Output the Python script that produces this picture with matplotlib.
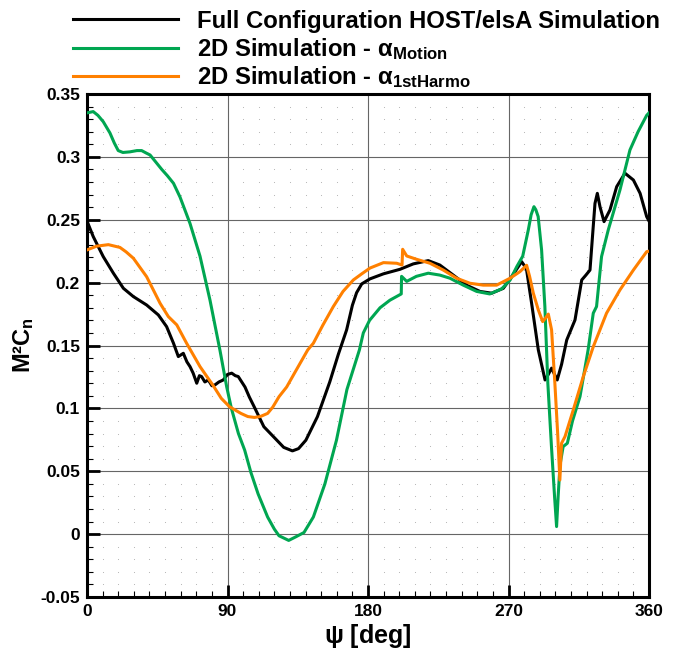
import numpy as np
import matplotlib
matplotlib.use('Agg')
import matplotlib.pyplot as plt
from matplotlib.lines import Line2D
from matplotlib.ticker import MultipleLocator, FuncFormatter

plt.rcParams['font.family'] = ['Liberation Sans', 'DejaVu Sans']
plt.rcParams['font.weight'] = 'bold'
plt.rcParams['mathtext.fontset'] = 'custom'
plt.rcParams['mathtext.rm'] = 'Liberation Sans'
plt.rcParams['mathtext.bf'] = 'Liberation Sans:bold'
plt.rcParams['mathtext.it'] = 'Liberation Sans:italic'

# Full configuration HOST/elsA
psi_host = [0, 4, 10.4, 16.9, 23.3, 29.7, 38.2, 45.7, 51, 55.4, 58.5, 61.7, 64, 66, 68,
            70.3, 72, 73.4, 75.5, 77.7, 80, 82, 84.5, 87.3, 90, 92.7, 95, 96.9, 101.2,
            104, 107.2, 113.3, 120.6, 126, 131.6, 135.5, 140.2, 147.6, 155.5, 161,
            166.3, 170, 172.7, 176, 181.3, 189.9, 200.5, 209, 218.6, 226, 234.6, 243.1,
            251.7, 259.2, 266.7, 272, 276.3, 278.4, 280.6, 281.6, 284.8, 289.1, 293.4,
            295.5, 297.6, 299.5, 301.2, 304, 307.3, 312.6, 316.9, 319.6, 322.2, 324,
            325.4, 326.9, 328.6, 331.2, 335, 339.3, 344.6, 350, 354.3, 358.5, 360]
cn_host = [0.249, 0.2366, 0.2207, 0.2075, 0.1955, 0.1889, 0.1822, 0.1743, 0.165, 0.1518,
           0.1412, 0.1438, 0.137, 0.1332, 0.128, 0.120, 0.126, 0.1253, 0.121, 0.1226,
           0.118, 0.1187, 0.121, 0.1226, 0.127, 0.128, 0.126, 0.1253, 0.117, 0.109,
           0.101, 0.0854, 0.076, 0.069, 0.0662, 0.068, 0.0747, 0.0934, 0.121, 0.143,
           0.1624, 0.182, 0.192, 0.199, 0.203, 0.207, 0.2106, 0.2149, 0.2175, 0.214,
           0.206, 0.198, 0.193, 0.1916, 0.1955, 0.2047, 0.2127, 0.2167, 0.2127, 0.21,
           0.1836, 0.1465, 0.1226, 0.127, 0.132, 0.127, 0.1226, 0.135, 0.1544, 0.1703,
           0.2021, 0.206, 0.210, 0.24, 0.263, 0.271, 0.2604, 0.2485, 0.2578, 0.2763,
           0.287, 0.2816, 0.271, 0.2525, 0.249]

# 2D simulation - alpha Motion
psi_motion = [0, 4, 7, 10.4, 14.7, 17.5, 20, 23, 27.5, 32, 35, 38, 40.4, 44, 47.9, 51.5,
              55.4, 59.6, 66, 72.4, 78.8, 85.2, 89.5, 92.5, 97, 101, 105, 109.6, 115.7,
              120, 123, 129.2, 134, 139, 145, 152.4, 159.8, 166.5, 174.5, 177, 181,
              187.7, 194, 201.3, 201.5, 204.8, 211, 218.6, 226, 232.5, 241, 249.6, 258,
              265.6, 271, 275.3, 279.1, 282.7, 284.5, 286.3, 287.5, 289, 291.2, 293.3,
              295.2, 297.5, 299.5, 300.8, 301.8, 303, 305, 307.7, 311, 315.8, 321, 324.3,
              326.4, 329.6, 333.9, 341.4, 347.8, 353, 358.5, 360]
cn_motion = [0.335, 0.336, 0.333, 0.328, 0.319, 0.311, 0.305, 0.3035, 0.304, 0.305, 0.305,
             0.303, 0.3015, 0.296, 0.29, 0.285, 0.279, 0.268, 0.247, 0.221, 0.186, 0.146,
             0.117, 0.100, 0.080, 0.0668, 0.049, 0.032, 0.0136, 0.004, -0.0013, -0.005,
             -0.002, 0.0013, 0.0136, 0.040, 0.0747, 0.115, 0.1465, 0.160, 0.170, 0.18,
             0.186, 0.191, 0.205, 0.201, 0.205, 0.2075, 0.206, 0.2035, 0.198, 0.193,
             0.191, 0.195, 0.202, 0.2127, 0.221, 0.242, 0.254, 0.2604, 0.258, 0.2525,
             0.226, 0.181, 0.12, 0.07, 0.03, 0.006, 0.03, 0.055, 0.0696, 0.0723, 0.09,
             0.1094, 0.1465, 0.1757, 0.181, 0.2207, 0.2419, 0.2737, 0.3055, 0.32, 0.333,
             0.335]

# 2D simulation - alpha 1st harmonic
psi_harmo = [0, 6.2, 13.7, 21.1, 25, 29.7, 38.2, 46.8, 52.1, 57.5, 63.8, 72.4, 80.9, 86,
             91.3, 98.6, 103, 107.2, 111, 115.7, 119, 123, 127.9, 132.9, 141.4, 145, 151,
             157.8, 164, 170.6, 176, 181.3, 189.9, 198.4, 201.8, 202.2, 204.8, 211, 219.7,
             228.2, 236.8, 245.3, 253.8, 262.4, 271, 277.4, 281.6, 283.5, 285.9, 289.1,
             291.9, 293.8, 295.5, 297.6, 299.7, 301.5, 302.9, 304, 306.2, 311.5, 317.9,
             324.3, 332.8, 341.4, 350, 358.5, 360]
cn_harmo = [0.226, 0.229, 0.2302, 0.228, 0.2245, 0.2194, 0.2047, 0.1836, 0.173, 0.1664,
            0.1518, 0.1332, 0.118, 0.108, 0.1013, 0.096, 0.0935, 0.0928, 0.0935, 0.096,
            0.101, 0.1093, 0.117, 0.128, 0.1465, 0.1518, 0.166, 0.181, 0.193, 0.2021,
            0.207, 0.2116, 0.2159, 0.2154, 0.214, 0.2265, 0.2212, 0.2186, 0.2154, 0.210,
            0.2035, 0.1995, 0.198, 0.198, 0.2035, 0.2088, 0.2138, 0.205, 0.1916, 0.1783,
            0.169, 0.172, 0.175, 0.1624, 0.120, 0.08, 0.043, 0.0723, 0.0776, 0.0988,
            0.1253, 0.149, 0.1757, 0.1942, 0.21, 0.2246, 0.225]

labels = ['Full Configuration HOST/elsA Simulation',
          r'2D Simulation - $\mathrm{\alpha}_{\mathbf{Motion}}$',
          r'2D Simulation - $\mathrm{\alpha}_{\mathbf{1stHarmo}}$']
colors = ['black', '#00A651', '#FF8000']

W, H = 679, 652
fig = plt.figure(figsize=(W / 100, H / 100), dpi=100)
ax = fig.add_axes([87 / W, 1 - 597 / H, (649 - 87) / W, (597 - 94) / H])

ax.set_xlim(0, 360)
ax.set_ylim(-0.05, 0.35)
ax.xaxis.set_major_locator(MultipleLocator(90))
ax.xaxis.set_minor_locator(MultipleLocator(10))
ax.yaxis.set_major_locator(MultipleLocator(0.05))
ax.yaxis.set_minor_locator(MultipleLocator(0.01))
ax.yaxis.set_major_formatter(FuncFormatter(lambda v, p: '%g' % round(v, 3)))
ax.xaxis.set_major_formatter(FuncFormatter(lambda v, p: '%g' % v))

ax.grid(True, which='major', color='#666666', lw=0.8)
# dotted minor grid: dots at minor intersections
mx = ax.xaxis.get_minorticklocs()
my = ax.yaxis.get_minorticklocs()
gx, gy = np.meshgrid(mx, my)
ax.scatter(gx.ravel(), gy.ravel(), s=0.6, color='#b0b0b0', lw=0, zorder=1)

ax.plot(psi_host, cn_host, color=colors[0], lw=2.2, zorder=3)
ax.plot(psi_motion, cn_motion, color=colors[1], lw=2.2, zorder=4)
ax.plot(psi_harmo, cn_harmo, color=colors[2], lw=2.2, zorder=5)

ax.tick_params(which='major', direction='in', length=9, width=2, labelsize=12.5,
               top=False, right=False, pad=5)
ax.tick_params(which='minor', direction='in', length=4.5, width=0.8,
               top=False, right=False)
for lab in ax.get_xticklabels() + ax.get_yticklabels():
    lab.set_fontweight('bold')
for s in ax.spines.values():
    s.set_linewidth(2.2)

ax.set_xlabel(r'$\mathrm{\psi}$ [deg]', fontsize=18, fontweight='bold', labelpad=2)
ax.set_ylabel(r'M²C$_{\mathbf{n}}$', fontsize=17, fontweight='bold', labelpad=3)

# legend above the axes
rows = [19.3, 47.7, 75.7]
for yy, lab, c in zip(rows, labels, colors):
    fig.add_artist(Line2D([72.7 / W, 178.3 / W], [1 - yy / H, 1 - yy / H],
                          color=c, lw=2.2, transform=fig.transFigure))
    fig.text(196.7 / W, 1 - (yy + 8.5) / H, lab, fontsize=17.2, fontweight='bold',
             va='baseline', ha='left')

fig.savefig('out.png', dpi=100)
